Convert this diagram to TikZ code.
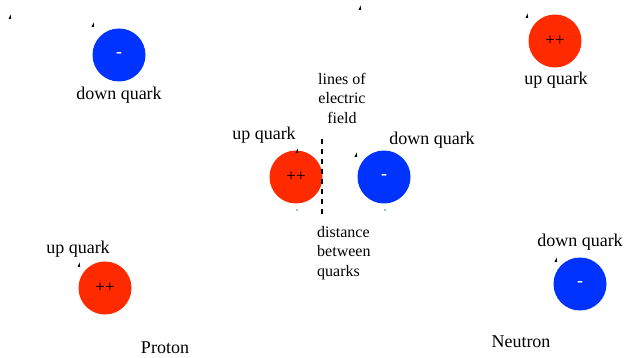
\documentclass[tikz,border=0pt]{standalone}
\usepackage{fontspec}
\setmainfont{Liberation Serif}
\definecolor{qred}{HTML}{FF2A00}
\definecolor{qblue}{HTML}{0033FF}
\definecolor{dotblue}{HTML}{6FA8DC}
\begin{document}
\begin{tikzpicture}[x=1pt,y=-1pt,
  upq/.style={circle,fill=qred,minimum size=53pt,inner sep=0pt,font=\fontsize{17}{17}\selectfont,text=black},
  downq/.style={circle,fill=qblue,minimum size=53pt,inner sep=0pt,font=\fontsize{18}{18}\selectfont\bfseries,text=white},
  lbl/.style={font=\fontsize{18}{20}\selectfont,inner sep=0pt},
  mid/.style={font=\fontsize{16}{19.5}\selectfont,inner sep=0pt,align=center},
  tick/.style={fill=black},
  field/.style={line width=2.2pt,dash pattern=on 5pt off 5pt}]
\useasboundingbox (0,0) rectangle (624,358);
% quarks
\node[downq] (dTL) at (119,55) {-};
\node[upq] (uTR) at (555,41) {++};
\node[upq] (uC) at (296,177) {++};
\node[downq] (dC) at (384,177) {-};
\node[upq] (uBL) at (105,288) {++};
\node[downq] (dBR) at (580,284) {-};
% labels
\node[lbl] (l1) at (119,95) {down quark};
\node[lbl] (l2) at (556,80) {up quark};
\node[lbl] (l3) at (264,135) {up quark};
\node[lbl] (l4) at (432,140) {down quark};
\node[lbl] (l5) at (78,249) {up quark};
\node[lbl] (l6) at (580,242) {down quark};
\node[lbl] (pr) at (165,348) {Proton};
\node[lbl] (ne) at (521,342) {Neutron};
\node[mid] (lines) at (342,98) {lines of\\electric\\field};
\node[mid,align=left,anchor=west] (dist) at (317,253) {distance\\between\\quarks};
% field line
\coordinate (fa) at (322,139);
\coordinate (fb) at (322,216);
\draw[field] (fa) -- (fb);
% small marks
\foreach \x/\y in {10/17,93/25,360/8,527/16,297/151,356/155,79/265,556/260}{
  \fill[tick] (\x-1.5,\y+2) -- (\x+1.2,\y+2) -- (\x+0.6,\y-2.5) -- cycle;
}
\fill[dotblue] (297,210) circle (1.2);
\fill[dotblue] (385,210) circle (1.2);
\end{tikzpicture}
\end{document}
